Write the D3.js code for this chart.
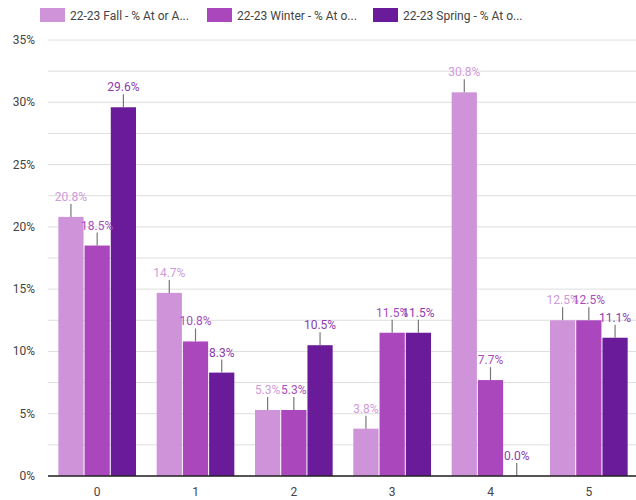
<!DOCTYPE html>
<html>
<head>
<meta charset="utf-8">
<script src="https://cdn.jsdelivr.net/npm/d3@7"></script>
<style>
  body { margin: 0; background: #fff; font-family: Roboto, "Noto Sans", sans-serif; }
</style>
</head>
<body>
<svg></svg>
<script>
let width = 636, height = 500;

// data
const categories = ["0", "1", "2", "3", "4", "5"];
const seriesNames = ["22-23 Fall - % At or A...", "22-23 Winter - % At o...", "22-23 Spring - % At o..."];
const fallValues = [20.8, 14.7, 5.3, 3.8, 30.8, 12.5];
const winterValues = [18.5, 10.8, 5.3, 11.5, 7.7, 12.5];
const springValues = [29.6, 8.3, 10.5, 11.5, 0.0, 11.1];
const yTicks = [0, 5, 10, 15, 20, 25, 30, 35];
const gridTicks = [2.5, 7.5, 12.5, 17.5, 22.5, 27.5, 32.5];

const colors = ["#ce93d8", "#ab47bc", "#6a1b9a"];
const labelColors = ["#cf9ad9", "#a64dbd", "#8b3bb0"];

let series = [fallValues, winterValues, springValues];

let margin = {top: 40, right: 0, bottom: 24, left: 48};

let svg = d3.select("svg")
  .attr("width", width)
  .attr("height", height);

let x = d3.scaleBand()
  .domain(categories)
  .range([margin.left, width + 2])
  .paddingInner(0.2)
  .paddingOuter(0.1);

let x1 = d3.scaleBand()
  .domain(d3.range(series.length))
  .range([0, x.bandwidth()])
  .padding(0);

let y = d3.scaleLinear()
  .domain([0, 35])
  .range([height - margin.bottom, margin.top]);

// grid lines
svg.append("g")
  .selectAll("line")
  .data(yTicks.concat(gridTicks))
  .join("line")
  .attr("x1", margin.left)
  .attr("x2", width)
  .attr("y1", d => y(d))
  .attr("y2", d => y(d))
  .attr("stroke", "#dedede")
  .attr("stroke-width", 1);

// y labels
svg.append("g")
  .selectAll("text")
  .data(yTicks)
  .join("text")
  .attr("x", 35)
  .attr("y", d => y(d) + 4)
  .attr("text-anchor", "end")
  .attr("font-size", 12)
  .attr("fill", "#444")
  .text(d => d + "%");

// bars
let groups = svg.append("g")
  .selectAll("g")
  .data(categories)
  .join("g")
  .attr("transform", d => `translate(${x(d)},0)`);

groups.selectAll("rect")
  .data((d, i) => series.map((s, k) => ({k: k, v: s[i]})))
  .join("rect")
  .attr("x", d => x1(d.k) + 0.5)
  .attr("width", x1.bandwidth() - 1)
  .attr("y", d => y(d.v))
  .attr("height", d => y(0) - y(d.v))
  .attr("fill", d => colors[d.k]);

// whiskers
groups.selectAll("line")
  .data((d, i) => series.map((s, k) => ({k: k, v: s[i]})))
  .join("line")
  .attr("x1", d => x1(d.k) + x1.bandwidth() / 2)
  .attr("x2", d => x1(d.k) + x1.bandwidth() / 2)
  .attr("y1", d => y(d.v))
  .attr("y2", d => y(d.v) - 13)
  .attr("stroke", "#777")
  .attr("stroke-width", 1.2);

// value labels
groups.selectAll("text")
  .data((d, i) => series.map((s, k) => ({k: k, v: s[i]})))
  .join("text")
  .attr("x", d => x1(d.k) + x1.bandwidth() / 2)
  .attr("y", d => y(d.v) - 16)
  .attr("text-anchor", "middle")
  .attr("font-size", 12)
  .attr("fill", d => labelColors[d.k])
  .text(d => d.v.toFixed(1) + "%");

// baseline
svg.append("line")
  .attr("x1", margin.left)
  .attr("x2", width)
  .attr("y1", y(0))
  .attr("y2", y(0))
  .attr("stroke", "#222")
  .attr("stroke-width", 1.5);

// x labels
svg.append("g")
  .selectAll("text")
  .data(categories)
  .join("text")
  .attr("x", d => x(d) + x.bandwidth() / 2)
  .attr("y", y(0) + 20)
  .attr("text-anchor", "middle")
  .attr("font-size", 12)
  .attr("fill", "#444")
  .text(d => d);

// legend
let legendX = [40, 207, 373];
let legend = svg.append("g")
  .selectAll("g")
  .data(seriesNames)
  .join("g")
  .attr("transform", (d, i) => `translate(${legendX[i]},8)`);

legend.append("rect")
  .attr("width", 25)
  .attr("height", 14)
  .attr("fill", (d, i) => colors[i]);

legend.append("text")
  .attr("x", 30)
  .attr("y", 11.5)
  .attr("font-size", 12)
  .attr("fill", "#444")
  .text(d => d);
</script>
</body>
</html>
